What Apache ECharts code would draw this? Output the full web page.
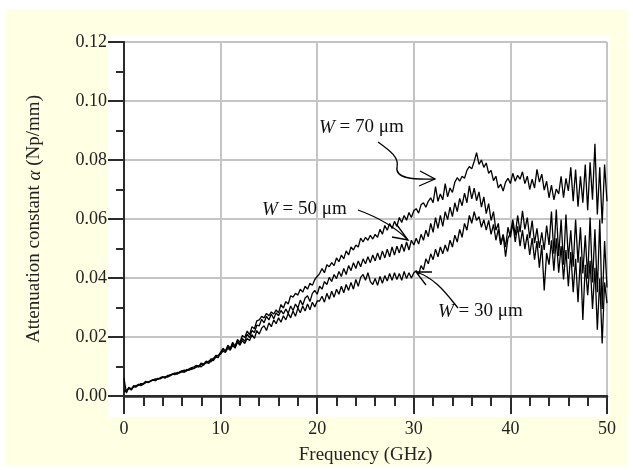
<!DOCTYPE html>
<html>
<head>
<meta charset="utf-8">
<script src="https://cdn.jsdelivr.net/npm/echarts@6/dist/echarts.min.js"></script>
<style>
html,body{margin:0;padding:0;background:#fff;}
#c{width:633px;height:470px;}
</style>
</head>
<body>
<div id="c"></div>
<script>
// Frequency sampling step (GHz); samples run from 0 to 50 GHz
const freqStep = 0.25;
const xTicks = [0, 10, 20, 30, 40, 50];
const yTicks = ['0.00', '0.02', '0.04', '0.06', '0.08', '0.10', '0.12'];
const seriesNames = ['W = 70 μm', 'W = 50 μm', 'W = 30 μm'];

const alphaW70 = [
0.006,0.001,0.003,0.002,0.0035,0.003,0.004,0.0035,0.004,0.005,
0.0045,0.005,0.0055,0.0052,0.006,0.0058,0.0065,0.006,0.007,0.0068,
0.0075,0.0072,0.008,0.0078,0.0085,0.0082,0.009,0.0088,0.0095,0.0093,
0.0102,0.0098,0.0108,0.0105,0.0115,0.011,0.0122,0.012,0.0132,0.013,
0.0148,
0.0162,0.0152,0.0172,0.0162,0.0182,0.0168,0.0192,0.0182,0.0205,0.0198,
0.022,0.0208,0.0235,0.0228,0.0255,0.0258,0.027,0.0265,0.028,0.0272,
0.0285,0.0278,0.0292,0.0282,0.031,0.0298,0.032,0.0312,0.034,0.0335,
0.0348,0.0342,0.0362,0.0352,0.0372,0.0362,0.0382,0.0375,0.0395,0.0405,
0.0415,0.0432,0.0418,0.0445,0.0438,0.0452,0.0442,0.0468,0.0455,0.0478,
0.0465,0.0492,0.0478,0.0505,0.0495,0.0512,0.0505,0.0535,0.0522,0.0538,
0.0528,0.0545,0.0532,0.0548,0.0538,0.0565,0.0548,0.0578,0.0562,0.0585,
0.0568,0.0592,0.0575,0.0605,0.0588,0.0612,0.0596,0.0622,0.0605,0.0628,
0.0635,0.062,0.0648,0.0655,0.064,0.066,0.0672,0.0655,0.071,0.066,
0.0685,0.0665,0.072,0.0675,0.0705,0.069,0.0725,0.074,0.0728,0.0745,
0.0738,0.0765,0.0778,0.077,0.0795,0.0825,0.0785,0.08,0.0775,0.079,
0.0755,0.0765,0.073,0.0745,0.0705,0.0718,0.0695,0.0725,0.0738,0.072,
0.0755,0.0728,0.0748,0.0735,0.076,0.072,0.0745,0.07,0.0735,0.0705,
0.0768,0.0725,0.0752,0.0698,0.0728,0.0672,0.0715,0.0665,0.0702,0.0685,
0.0745,0.0672,0.0738,0.0695,0.0775,0.066,0.0768,0.0642,0.0745,0.0655,
0.0785,0.063,0.0792,0.0665,0.0855,0.0615,0.0775,0.0585,0.0785,0.066
];

const alphaW50 = [
0.002,0.0015,0.0028,0.0025,0.0032,0.0035,0.0038,0.004,0.0042,0.0048,
0.0046,0.0052,0.0055,0.0058,0.0056,0.0062,0.0065,0.0063,0.0068,0.0072,
0.0074,0.0078,0.0076,0.0082,0.0085,0.0088,0.0086,0.0092,0.0096,0.0099,
0.0104,0.0101,0.0112,0.0108,0.0118,0.0115,0.0126,0.0125,0.0138,0.0136,
0.0148,
0.0158,0.0152,0.0168,0.0158,0.0178,0.0168,0.0188,0.0175,0.0195,0.0185,
0.021,0.0198,0.0222,0.0215,0.024,0.0238,0.026,0.0248,0.027,0.0258,
0.0278,0.0262,0.0282,0.0272,0.029,0.0278,0.0295,0.028,0.0305,0.029,
0.0312,0.0298,0.0325,0.0308,0.0332,0.034,0.032,0.0348,0.0358,0.0345,
0.0372,0.0362,0.0388,0.0378,0.0402,0.0388,0.0412,0.0398,0.0422,0.0405,
0.0432,0.0412,0.0442,0.0425,0.0452,0.0432,0.0458,0.0438,0.0465,0.0448,
0.0472,0.0452,0.0478,0.0458,0.0485,0.0462,0.0492,0.0468,0.0498,0.0472,
0.0505,0.0478,0.0508,0.0485,0.0515,0.049,0.0522,0.0495,0.0528,0.0512,
0.0535,0.0515,0.0548,0.0528,0.0562,0.054,0.0585,0.0555,0.0605,0.0568,
0.0612,0.0575,0.0625,0.0598,0.064,0.0608,0.0655,0.0625,0.067,0.0645,
0.0688,0.0655,0.0712,0.0668,0.0705,0.0662,0.0692,0.064,0.0675,0.0618,
0.0652,0.0595,0.0625,0.0562,0.0585,0.0515,0.0545,0.0472,0.0535,0.0552,
0.0598,0.0545,0.0612,0.0555,0.0628,0.0565,0.0605,0.0535,0.0595,0.0518,
0.0568,0.0502,0.0555,0.0495,0.0578,0.0512,0.0625,0.0482,0.0632,0.0475,
0.0598,0.0445,0.0615,0.0465,0.0562,0.0438,0.0598,0.0452,0.0572,0.0415,
0.0545,0.0398,0.0605,0.0385,0.0565,0.0352,0.0598,0.0295,0.0525,0.0368
];

const alphaW30 = [
0.0015,0.002,0.0025,0.0022,0.003,0.0033,0.0036,0.0042,0.004,0.0045,
0.0048,0.005,0.0054,0.0052,0.0058,0.006,0.0062,0.0066,0.0064,0.0069,
0.0072,0.0075,0.0074,0.0079,0.0082,0.0081,0.0086,0.0089,0.009,0.0094,
0.0098,0.0102,0.0099,0.0108,0.0112,0.0118,0.0116,0.0128,0.0132,0.0138,
0.0142,
0.0152,0.0148,0.0162,0.0155,0.0172,0.0162,0.0182,0.0172,0.0188,0.0178,
0.0195,0.0188,0.0208,0.0195,0.0222,0.021,0.023,0.0238,0.0222,0.0248,
0.0235,0.0258,0.0245,0.0265,0.025,0.0272,0.0258,0.028,0.0265,0.0288,
0.027,0.0298,0.0282,0.0305,0.0288,0.0312,0.0292,0.0318,0.0302,0.0322,
0.0322,0.0338,0.0318,0.0348,0.0328,0.0355,0.0335,0.0362,0.0345,0.0372,
0.035,0.0378,0.0358,0.0385,0.0362,0.0395,0.0372,0.0402,0.0412,0.0392,
0.0418,0.0388,0.0378,0.0398,0.0375,0.0405,0.0382,0.0408,0.039,0.0415,
0.0392,0.0418,0.0395,0.0415,0.0392,0.0422,0.0398,0.0418,0.04,0.0418,
0.0425,0.0412,0.0442,0.0428,0.0465,0.0448,0.0482,0.0462,0.0498,0.0472,
0.0505,0.0482,0.0512,0.049,0.0528,0.0505,0.0545,0.0522,0.0565,0.0538,
0.0585,0.0562,0.0612,0.0585,0.0625,0.0595,0.0608,0.0572,0.0598,0.0562,
0.0595,0.0548,0.0582,0.0528,0.0565,0.0512,0.0548,0.0505,0.0572,0.0538,
0.0585,0.0522,0.0575,0.0508,0.0562,0.0498,0.0548,0.0478,0.0535,0.0462,
0.0525,0.0435,0.0512,0.0358,0.0485,0.0445,0.0528,0.0425,0.0535,0.0418,
0.0508,0.0395,0.0495,0.0372,0.0488,0.0352,0.0465,0.0318,0.0472,0.0258,
0.0445,0.0342,0.0458,0.0295,0.0435,0.0225,0.0398,0.0178,0.0385,0.0315
];

const FONT = '"Liberation Serif", "Times New Roman", serif';
const toPairs = arr => arr.map((v, i) => [i * freqStep, v]);

const chart = echarts.init(document.getElementById('c'), null, {renderer: 'canvas'});

const axisDark = '#2b2b2b';
const gridGray = '#c4c4c4';

const option = {
  animation: false,
  backgroundColor: '#ffffff',
  grid: {left: 124, right: 26, top: 42, bottom: 74, containLabel: false},
  xAxis: [{
    type: 'value', min: xTicks[0], max: xTicks[xTicks.length - 1], interval: 10,
    name: 'Frequency (GHz)', nameLocation: 'middle', nameGap: 50,
    nameTextStyle: {fontFamily: FONT, fontSize: 19, color: '#222'},
    axisLine: {show: true, onZero: false, lineStyle: {color: axisDark, width: 2}},
    axisTick: {show: true, length: 18, lineStyle: {color: axisDark, width: 2}},
    minorTick: {show: true, splitNumber: 5, length: 10, lineStyle: {color: axisDark, width: 2}},
    axisLabel: {fontFamily: FONT, fontSize: 18, color: '#222', margin: 24},
    splitLine: {show: true, lineStyle: {color: gridGray, width: 2}}
  }, {
    type: 'value', position: 'top', min: 0, max: 50,
    axisLine: {show: true, lineStyle: {color: axisDark, width: 2.5}},
    axisTick: {show: false}, axisLabel: {show: false}, splitLine: {show: false}
  }],
  yAxis: [{
    type: 'value', min: 0, max: 0.12, interval: 0.02,
    name: '{n|Attenuation constant }{a|α}{n| (Np/mm)}',
    nameLocation: 'middle', nameGap: 80, nameRotate: 90,
    nameTextStyle: {
      fontFamily: FONT, fontSize: 19, color: '#222',
      rich: {
        n: {fontFamily: FONT, fontSize: 19, color: '#222'},
        a: {fontFamily: FONT, fontSize: 19, color: '#222', fontStyle: 'italic'}
      }
    },
    axisLine: {show: true, onZero: false, lineStyle: {color: axisDark, width: 2}},
    axisTick: {show: true, length: 16, lineStyle: {color: axisDark, width: 2}},
    minorTick: {show: true, splitNumber: 2, length: 8, lineStyle: {color: axisDark, width: 2}},
    axisLabel: {fontFamily: FONT, fontSize: 18, color: '#222', margin: 17,
      formatter: v => yTicks[Math.round(v / 0.02)]},
    splitLine: {show: true, lineStyle: {color: gridGray, width: 2}}
  }, {
    type: 'value', position: 'right', min: 0, max: 0.12,
    axisLine: {show: true, lineStyle: {color: axisDark, width: 1.5}},
    axisTick: {show: false}, axisLabel: {show: false}, splitLine: {show: false}
  }],
  graphic: [
    {type: 'rect', z: -100, silent: true, shape: {x: 6, y: 9, width: 622, height: 456}, style: {fill: '#ffffe4'}},
    {type: 'rect', z: -90, silent: true, shape: {x: 108, y: 35, width: 502, height: 382}, style: {fill: '#ffffff'}},
    // annotation labels
    {type: 'text', z: 100, x: 319, y: 118, style: {
      text: '{i|W} = 70 μm', font: '19px ' + FONT, fill: '#111',
      rich: {i: {fontStyle: 'italic', fontFamily: FONT, fontSize: 19, fill: '#111'}}
    }},
    {type: 'text', z: 100, x: 262, y: 200, style: {
      text: '{i|W} = 50 μm', font: '19px ' + FONT, fill: '#111',
      rich: {i: {fontStyle: 'italic', fontFamily: FONT, fontSize: 19, fill: '#111'}}
    }},
    {type: 'text', z: 100, x: 438, y: 302, style: {
      text: '{i|W} = 30 μm', font: '19px ' + FONT, fill: '#111',
      rich: {i: {fontStyle: 'italic', fontFamily: FONT, fontSize: 19, fill: '#111'}}
    }},
    // arrows
    {type: 'bezierCurve', z: 100, shape: {x1: 378, y1: 142, cpx1: 392, cpy1: 152, cpx2: 399, cpy2: 158, x2: 397, y2: 167}, style: {stroke: '#000', lineWidth: 1.3, fill: null}},
    {type: 'bezierCurve', z: 100, shape: {x1: 397, y1: 167, cpx1: 395, cpy1: 178, cpx2: 412, cpy2: 180, x2: 435, y2: 179}, style: {stroke: '#000', lineWidth: 1.3, fill: null}},
    {type: 'polyline', z: 100, shape: {points: [[420, 171], [435, 179], [419, 186]]}, style: {stroke: '#000', lineWidth: 1.3, fill: null}},
    {type: 'bezierCurve', z: 100, shape: {x1: 358, y1: 210, cpx1: 380, cpy1: 218, cpx2: 396, cpy2: 228, x2: 408, y2: 240}, style: {stroke: '#000', lineWidth: 1.3, fill: null}},
    {type: 'polyline', z: 100, shape: {points: [[397, 225], [408, 240], [392, 237]]}, style: {stroke: '#000', lineWidth: 1.3, fill: null}},
    {type: 'bezierCurve', z: 100, shape: {x1: 416, y1: 272, cpx1: 436, cpy1: 278, cpx2: 448, cpy2: 296, x2: 458, y2: 308}, style: {stroke: '#000', lineWidth: 1.3, fill: null}},
    {type: 'polyline', z: 100, shape: {points: [[432, 272], [416, 272], [426, 285]]}, style: {stroke: '#000', lineWidth: 1.3, fill: null}}
  ],
  series: [
    {name: seriesNames[0], type: 'line', data: toPairs(alphaW70), showSymbol: false, symbol: 'none', lineStyle: {color: '#000', width: 1.3}, z: 5},
    {name: seriesNames[1], type: 'line', data: toPairs(alphaW50), showSymbol: false, symbol: 'none', lineStyle: {color: '#000', width: 1.3}, z: 5},
    {name: seriesNames[2], type: 'line', data: toPairs(alphaW30), showSymbol: false, symbol: 'none', lineStyle: {color: '#000', width: 1.3}, z: 5}
  ]
};
chart.setOption(option);
</script>
</body>
</html>
